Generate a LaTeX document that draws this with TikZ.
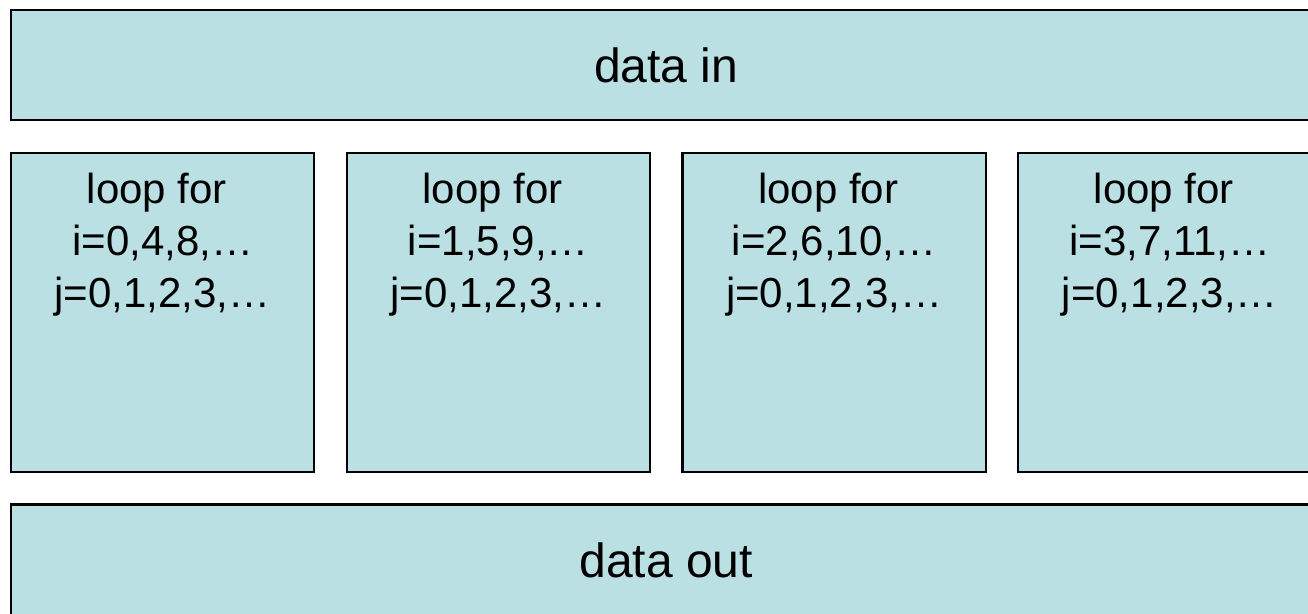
\documentclass[tikz,border=0pt]{standalone}
\usepackage{fontspec}
\setmainfont{Liberation Sans}
\definecolor{panelblue}{RGB}{186,224,227}
\begin{document}
\begin{tikzpicture}[x=1pt,y=-1pt,
  panel/.style={rectangle, draw=black, line width=2.2pt, fill=panelblue, inner sep=0pt},
  bandtext/.style={font=\fontsize{48}{58}\selectfont},
  looptext/.style={font=\fontsize{42}{52}\selectfont, align=center, inner sep=0pt, anchor=north}
]
\clip (0,0) rectangle (1308,613);

% input and output bands
\node[panel, bandtext, minimum width=1310.4pt, minimum height=109.7pt] (in) at (666.2,65.15) {data in};
\node[panel, bandtext, minimum width=1310.4pt, minimum height=112pt] (out) at (666.2,560.5) {data out};

% the four parallel loops
\foreach \k/\iv in {1/{0,4,8,\dots}, 2/{1,5,9,\dots}, 3/{2,6,10,\dots}, 4/{3,7,11,\dots}} {
  \node[panel, minimum width=303.3pt, minimum height=319.3pt] (loop\k) at ({162.65+335.7*(\k-1)},312.65) {};
  \node[looptext] (txt\k) at ({162.65+335.7*(\k-1)},173)
    {loop for\hspace*{0.278em}\\ i=\iv\\ j=0,1,2,3,\dots};
}
\end{tikzpicture}
\end{document}
